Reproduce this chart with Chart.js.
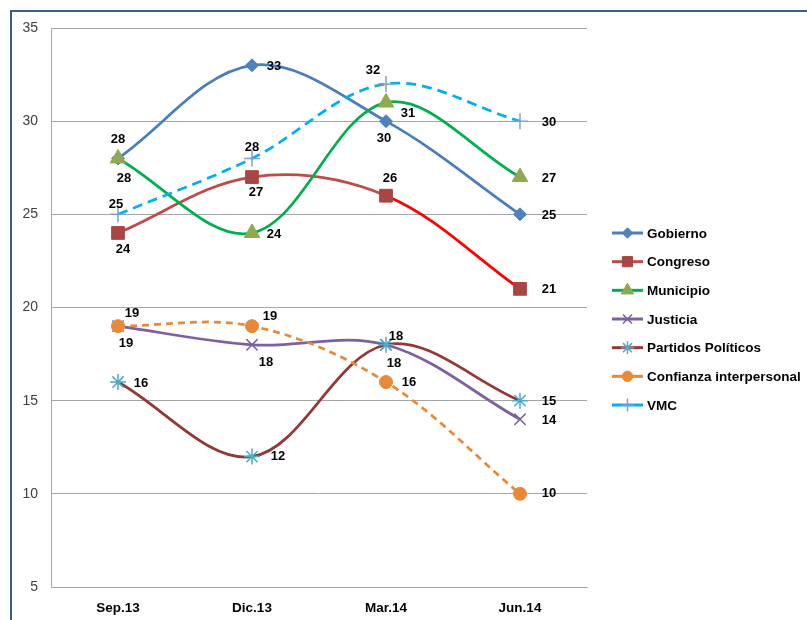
<!DOCTYPE html>
<html>
<head>
<meta charset="utf-8">
<title>Confianza</title>
<script src="https://cdn.jsdelivr.net/npm/chart.js@4/dist/chart.umd.min.js"></script>
<style>
    body { margin: 0; background: #fff; }
    #wrap { position: relative; width: 807px; height: 620px; overflow: hidden; }
    #frame {
        position: absolute; left: 10px; top: 10px;
        width: 900px; height: 700px;
        border: 2px solid #385D8A;
    }
    #chart { position: absolute; left: 0; top: 0; }
</style>
</head>
<body>
<div id="wrap">
    <div id="frame"></div>
    <canvas id="chart" width="807" height="620"></canvas>
</div>
<script>
// periodos y series
const periodos = ['Sep.13', 'Dic.13', 'Mar.14', 'Jun.14'];
const gobierno = [28, 33, 30, 25];
const congreso = [24, 27, 26, 21];
const municipio = [28, 24, 31, 27];
const justicia = [19, 18, 18, 14];
const partidos = [16, 12, 18, 15];
const confianza = [19, 19, 16, 10];
const vmc = [25, 28, 32, 30];

// eje Y
const yMin = 5;
const yMax = 35;
const yPaso = 5;

const FONT = '"Liberation Sans", Arial, sans-serif';

// desplazamiento de cada etiqueta respecto a su punto (centro del texto)
const desplazamientos = [
    [[0, -19], [22, 1], [-2, 17], [29, 1]],
    [[5, 16], [4, 15], [4, -17], [29, 1]],
    [[6, 20], [22, 1], [22, 11], [29, 1]],
    [[8, 17], [14, 18], [8, 19], [29, 1]],
    [[23, 1], [26, 0], [10, -8], [29, 1]],
    [[14, -13], [18, -10], [23, 0], [29, 0]],
    [[-2, -10], [0, -11], [-13, -13], [29, 1]]
];

function serie(label, data, linea, marca, estilo, radio, extra) {
    return Object.assign({
        label: label,
        data: data,
        borderColor: linea,
        backgroundColor: marca,
        pointBackgroundColor: marca,
        pointBorderColor: marca,
        pointStyle: estilo,
        pointRadius: radio,
        pointHoverRadius: radio,
        pointBorderWidth: 1,
        borderWidth: 2.75,
        tension: 0.35,
        fill: false
    }, extra || {});
}

const datasets = [
    serie('Gobierno', gobierno, '#4A7EBB', '#4F81BD', 'rectRot', 6.5),
    serie('Congreso', congreso, '#BE4B48', '#A94543', 'rect', 9, {
        segment: {
            borderColor: c => c.p0DataIndex === 2 ? '#FF0000' : undefined
        }
    }),
    serie('Municipio', municipio, '#00B050', '#8EA94F', 'triangle', 9),
    serie('Justicia', justicia, '#7D60A0', '#7D60A0', 'crossRot', 8, { pointBorderWidth: 1.5 }),
    serie('Partidos Políticos', partidos, '#953735', '#4BACC6', 'star', 8, { pointBorderWidth: 1.5 }),
    serie('Confianza interpersonal', confianza, '#E8893A', '#E8893A', 'circle', 6.5, { borderDash: [7, 5] }),
    serie('VMC', vmc, '#00B0F0', '#7F9FD0', 'cross', 8, { borderDash: [10, 6], pointBorderWidth: 1.5 })
];

// las series posteriores se dibujan encima
datasets.forEach((d, i) => { d.order = datasets.length - i; });

// etiquetas de valor
const etiquetasPlugin = {
    id: 'etiquetas',
    afterDatasetsDraw(chart) {
        const ctx = chart.ctx;
        ctx.save();
        ctx.font = 'bold 13px ' + FONT;
        ctx.fillStyle = '#000';
        ctx.textAlign = 'center';
        ctx.textBaseline = 'middle';
        chart.data.datasets.forEach((ds, i) => {
            const meta = chart.getDatasetMeta(i);
            meta.data.forEach((pt, j) => {
                const off = desplazamientos[i][j];
                ctx.fillText(String(ds.data[j]), pt.x + off[0], pt.y + off[1]);
            });
        });
        ctx.restore();
    }
};

// leyenda a la derecha con línea y marcador
const leyendaPlugin = {
    id: 'leyenda',
    afterDraw(chart) {
        const ctx = chart.ctx;
        const x0 = 612, y0 = 233, paso = 28.67;
        ctx.save();
        chart.data.datasets.forEach((ds, i) => {
            const y = y0 + i * paso;
            ctx.setLineDash([]);
            ctx.strokeStyle = ds.borderColor;
            ctx.lineWidth = 3;
            ctx.beginPath();
            ctx.moveTo(x0, y);
            ctx.lineTo(x0 + 31, y);
            ctx.stroke();

            ctx.fillStyle = ds.pointBackgroundColor;
            ctx.strokeStyle = ds.pointBorderColor;
            ctx.lineWidth = ds.pointBorderWidth;
            Chart.helpers.drawPoint(ctx, {
                pointStyle: ds.pointStyle,
                radius: ds.pointRadius * 0.8,
                borderWidth: ds.pointBorderWidth,
                rotation: 0
            }, x0 + 15.5, y);

            ctx.fillStyle = '#000';
            ctx.font = 'bold 13.5px ' + FONT;
            ctx.textAlign = 'left';
            ctx.textBaseline = 'middle';
            ctx.fillText(ds.label, x0 + 35, y + 1);
        });
        ctx.restore();
    }
};

new Chart(document.getElementById('chart'), {
    type: 'line',
    data: {
        labels: periodos,
        datasets: datasets
    },
    plugins: [etiquetasPlugin, leyendaPlugin],
    options: {
        responsive: false,
        animation: false,
        events: [],
        layout: {
            padding: { top: 28, right: 220, left: 0, bottom: 0 }
        },
        plugins: {
            legend: { display: false },
            tooltip: { enabled: false }
        },
        scales: {
            x: {
                offset: true,
                grid: { display: false, drawTicks: false },
                border: { display: true, color: '#A6A6A6', width: 1 },
                ticks: {
                    color: '#000',
                    font: { family: FONT, size: 13.5, weight: 'bold' },
                    padding: 13
                },
                afterFit: s => { s.height = 33; }
            },
            y: {
                min: yMin,
                max: yMax,
                ticks: {
                    stepSize: yPaso,
                    color: '#404040',
                    font: { family: FONT, size: 14 },
                    padding: 13
                },
                grid: { color: '#A6A6A6', drawTicks: false },
                border: { display: true, color: '#A6A6A6', width: 1 },
                afterFit: s => { s.width = 51; }
            }
        }
    }
});
</script>
</body>
</html>
